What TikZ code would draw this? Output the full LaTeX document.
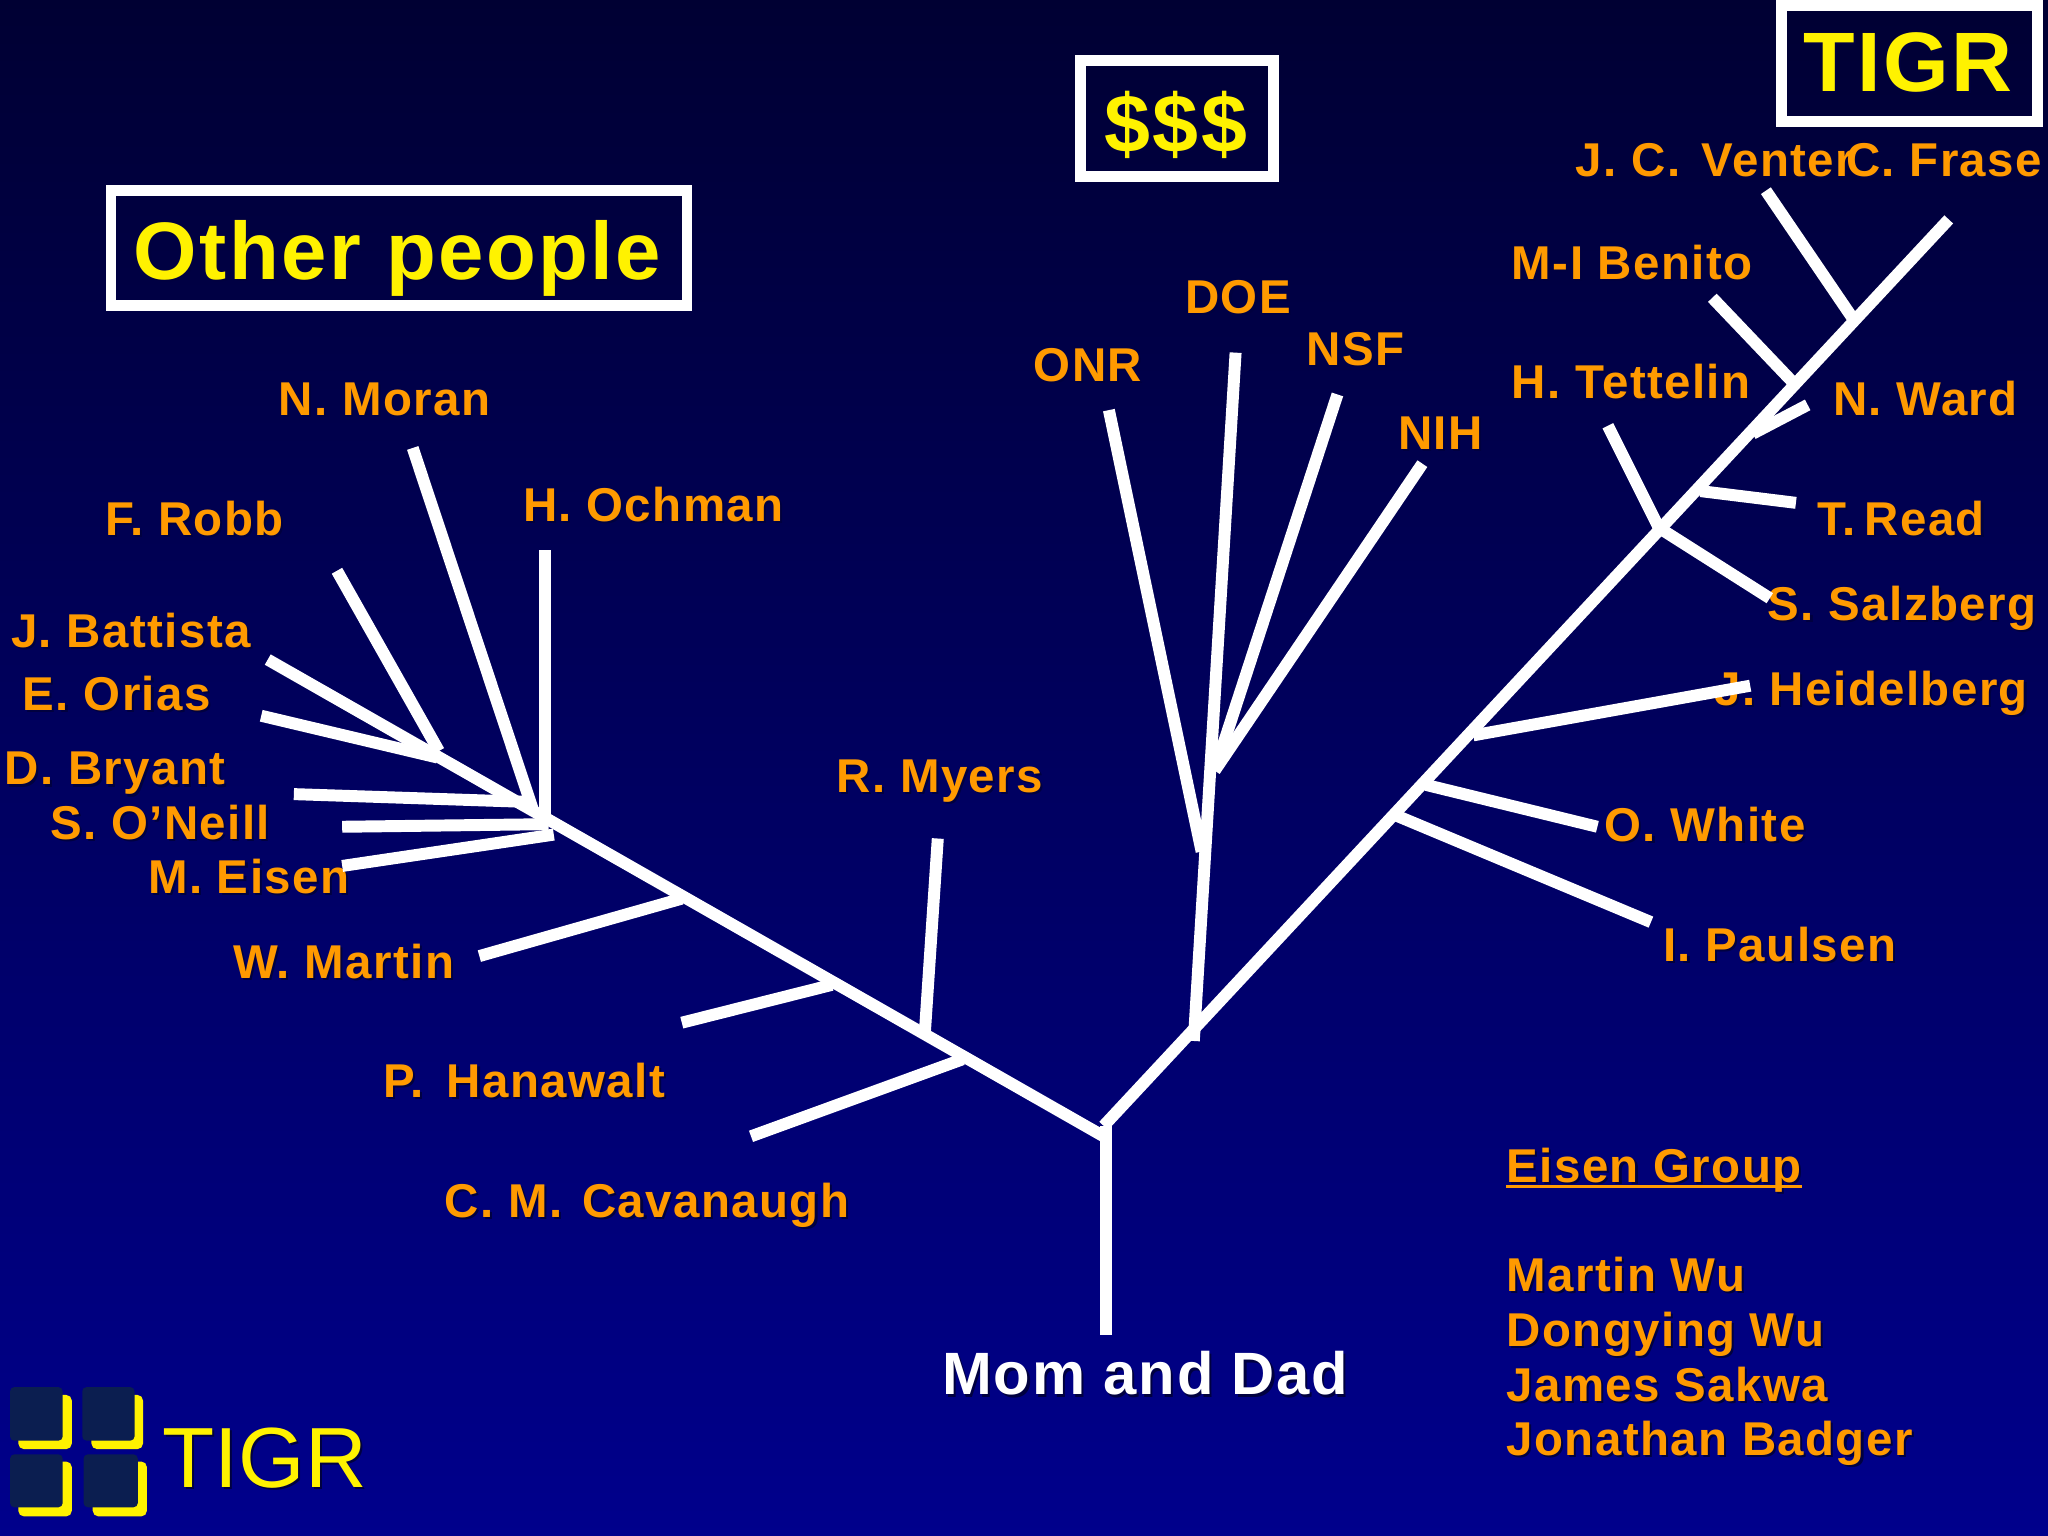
\documentclass[tikz,border=0pt]{standalone}
\usepackage{fontspec}
\setmainfont{Liberation Sans}
\newfontface\labfont{Liberation Sans Bold}[LetterSpace=3]
\newfontface\logofont{Liberation Sans}
\usetikzlibrary{positioning}
\tikzset{
    lab/.style={anchor=base west, inner sep=0pt, text=labcol, font=\labfont\fontsize{13.5}{16}\selectfont},
    branch/.style={draw=white, line width=3.4pt},
    titlebox/.style={draw=white, line width=3.1pt},
    tile/.style={fill=tilecol, rounded corners=1.2pt},
    tileback/.style={fill=yellow, rounded corners=1.6pt},
}
\definecolor{labcol}{HTML}{FF9A00}
\definecolor{tilecol}{HTML}{0B1E50}
\definecolor{bgtop}{HTML}{000033}
\definecolor{bgbottom}{HTML}{00008C}
% text with its dark offset copy
\newcommand{\lab}[4][lab]{
    \node[#1, text=black!75!blue] (#2s) at ([shift={(1.6,1.6)}]#3) {#4};
    \node[#1] (#2) at (#3) {#4};
}
\begin{document}
\begin{tikzpicture}[x=0.013061cm, y=-0.013061cm]
    \useasboundingbox (0,0) rectangle (1568,1176);
    \shade[top color=bgtop, bottom color=bgbottom, shading angle=0] (0,0) rectangle (1568,1176);

    % Labels, left side
    \lab{moran}{213,318}{N. Moran}
    \lab{ochman}{400,399}{H. Ochman}
    \lab{robb}{80,410}{F. Robb}
    \lab{battista}{8,496}{J. Battista}
    \lab{orias}{17,544}{E. Orias}
    \lab{bryant}{3,601}{D. Bryant}
    \lab{oneill}{38,643}{S. O’Neill}
    \lab{eisen}{113,684}{M. Eisen}
    \lab{martin}{178,749}{W. Martin}
    \lab{hanawalt}{293,840}{P.\hspace{2.5pt} Hanawalt}
    \lab{cavanaugh}{340,932}{C. M.\hspace{1.5pt} Cavanaugh}
    \lab{myers}{640,607}{R. Myers}

    % Labels, funding
    \lab{onr}{791,292}{ONR}
    \lab{doe}{907,240}{DOE}
    \lab{nsf}{1000,280}{NSF}
    \lab{nih}{1070,344}{NIH}

    % Labels, right side
    \lab{venter}{1206,135}{J. C.\hspace{2pt} Venter}
    \lab{fraser}{1413,135}{C. Frase}
    \lab{benito}{1157,214}{M-I Benito}
    \lab{tettelin}{1157,305}{H. Tettelin}
    \lab{ward}{1403,318}{N. Ward}
    \lab{read}{1391,410}{T.\hspace{2.5pt}Read}
    \lab{salzberg}{1353,475}{S. Salzberg}
    \lab{heidelberg}{1312,540}{J. Heidelberg}
    \lab{white}{1228,644}{O. White}
    \lab{paulsen}{1273,736}{I. Paulsen}

    % Eisen group
    \lab{group}{1153,905}{Eisen Group}
    \draw[labcol, line width=0.8pt] ([yshift=-1.2pt]group.base west) -- ([yshift=-1.2pt]group.base east);
    \lab{wu}{1153,989}{Martin Wu}
    \lab{dongying}{1153,1031}{Dongying Wu}
    \lab{sakwa}{1153,1073}{James Sakwa}
    \lab{badger}{1153,1114}{Jonathan Badger}
    \lab[lab, text=white, font=\labfont\fontsize{17}{20}\selectfont]{mom}{721,1068}{Mom and Dad}

    % Boxes
    \draw[titlebox] (85,146) rectangle (526,234);
    \draw[titlebox] (827,46) rectangle (975,135);
    \draw[titlebox] (1364,4) rectangle (1560,93);
    \lab[lab, text=yellow, font=\labfont\fontsize{23.2}{28}\selectfont]{other}{102,214}{Other people}
    \lab[lab, text=yellow, font=\labfont\fontsize{23.5}{28}\selectfont]{money}{845,117}{\$\$\$}
    \lab[lab, text=yellow, font=\labfont\fontsize{24}{28}\selectfont]{tigr}{1380,70}{TIGR}

    % Tree points
    \coordinate (root) at (847,1022);
    \coordinate (fork) at (847,862);
    \coordinate (leftfork) at (845,870);
    \coordinate (rightfork) at (845,862);
    \coordinate (leftend) at (205,505);
    \coordinate (rightend) at (1492,168);

    % Main branches
    \draw[branch] (root) -- (fork);
    \draw[branch] (leftfork) -- (leftend);
    \draw[branch] (rightfork) -- (rightend);

    % Left twigs
    \coordinate (a1) at (737,811); \coordinate (b1) at (575,870);
    \coordinate (a2) at (637,754); \coordinate (b2) at (522,783);
    \coordinate (a3) at (522,688); \coordinate (b3) at (367,732);
    \coordinate (a4) at (708,792); \coordinate (b4) at (718,642);
    \coordinate (a5) at (424,639); \coordinate (b5) at (262,663);
    \coordinate (a6) at (420,631); \coordinate (b6) at (262,633);
    \coordinate (a7) at (405,614); \coordinate (b7) at (225,608);
    \coordinate (a8) at (417,630); \coordinate (b8) at (417,421);
    \coordinate (a9) at (408,620); \coordinate (b9) at (316,343);
    \coordinate (a10) at (336,575); \coordinate (b10) at (258,437);
    \coordinate (a11) at (335,580); \coordinate (b11) at (200,548);
    \foreach \i in {1,...,11}
        \draw[branch] (a\i) -- (b\i);

    % Funding twigs
    \coordinate (c1) at (914,797); \coordinate (d1) at (946,270);
    \coordinate (c2) at (920,652); \coordinate (d2) at (849,314);
    \coordinate (c3) at (930,590); \coordinate (d3) at (1024,302);
    \coordinate (c4) at (930,590); \coordinate (d4) at (1089,355);
    \foreach \i in {1,...,4}
        \draw[branch] (c\i) -- (d\i);

    % Right twigs
    \coordinate (e1) at (1418,243); \coordinate (f1) at (1352,146);
    \coordinate (e2) at (1372,292); \coordinate (f2) at (1311,228);
    \coordinate (e3) at (1342,332); \coordinate (f3) at (1384,310);
    \coordinate (e4) at (1302,376); \coordinate (f4) at (1375,385);
    \coordinate (e5) at (1270,404); \coordinate (f5) at (1355,458);
    \coordinate (e6) at (1270,404); \coordinate (f6) at (1231,326);
    \coordinate (e7) at (1128,563); \coordinate (f7) at (1340,525);
    \coordinate (e8) at (1092,601); \coordinate (f8) at (1223,633);
    \coordinate (e9) at (1068,624); \coordinate (f9) at (1264,706);
    \foreach \i in {1,...,9}
        \draw[branch] (e\i) -- (f\i);

    % Logo
    \fill[tileback] (14,1068) rectangle (55,1109.5);
    \fill[tileback] (70,1068) rectangle (109.5,1109.5);
    \fill[tileback] (14,1119) rectangle (55,1161);
    \fill[tileback] (71,1119) rectangle (112.5,1161);
    \fill[tile] (7.7,1062) rectangle (48,1103);
    \fill[tile] (63,1062) rectangle (103,1103);
    \fill[tile] (7.7,1113.5) rectangle (48,1154);
    \fill[tile] (64,1113.5) rectangle (105.5,1154);
    \lab[lab, text=yellow, font=\logofont\fontsize{24.3}{28}\selectfont]{logo}{124,1138.5}{TIGR}
\end{tikzpicture}
\end{document}
